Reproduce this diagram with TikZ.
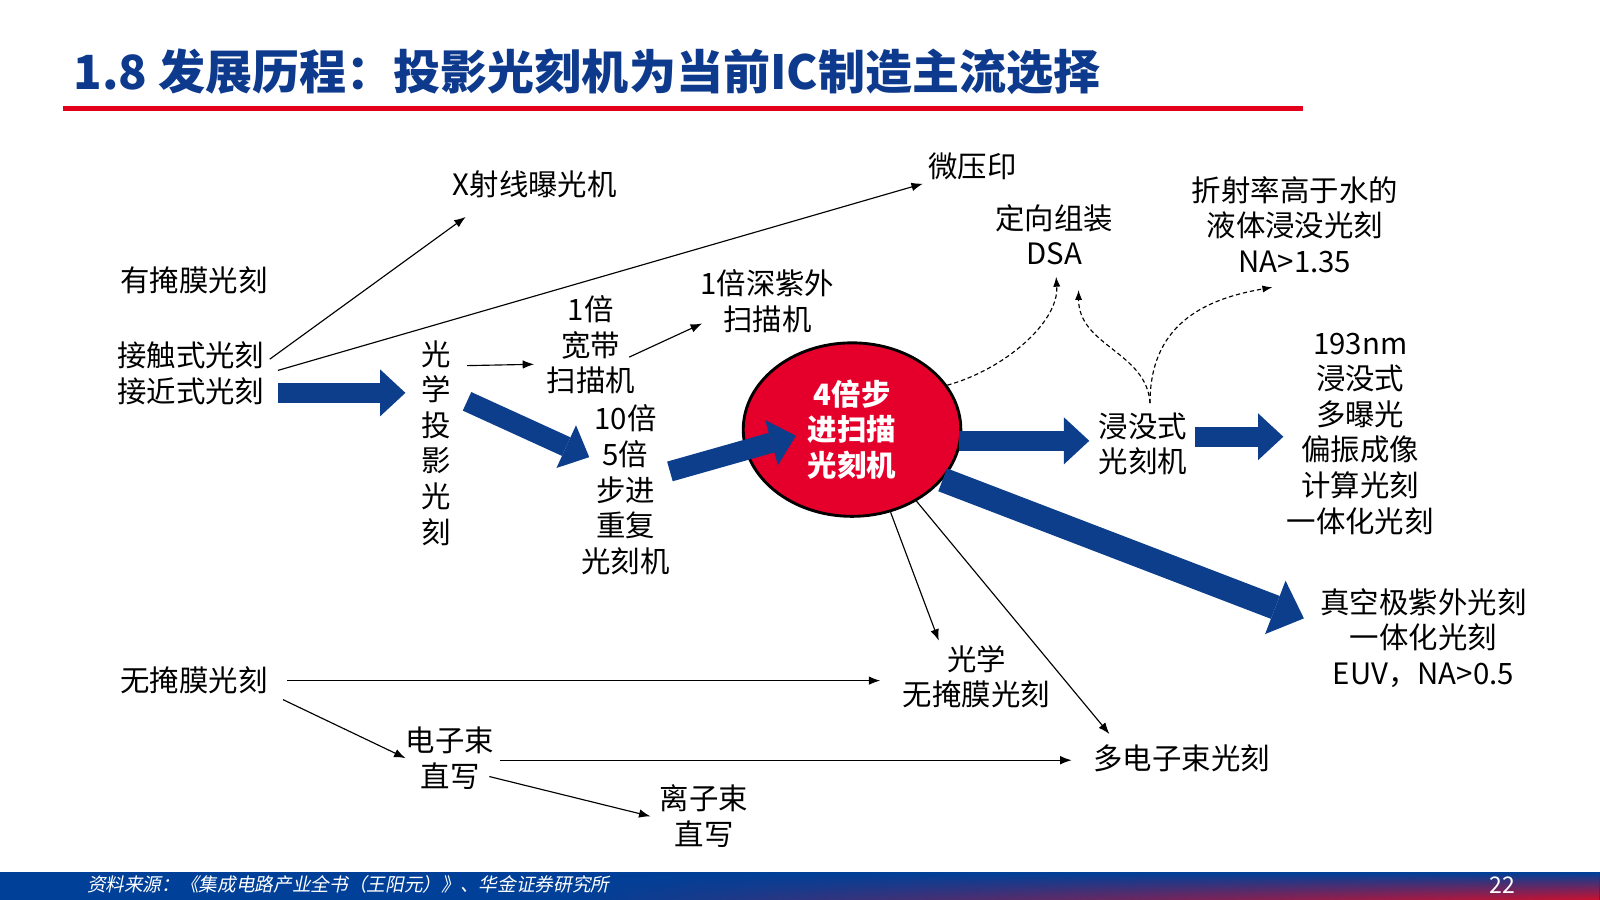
\documentclass[tikz,border=0pt]{standalone}
\usepackage{fontspec}
\newfontfamily\cjk{Noto Sans CJK SC}
\newfontfamily\cjkit{Noto Sans CJK SC}[FakeSlant=0.2]
\usetikzlibrary{arrows.meta, shapes.geometric, calc, fadings}

\definecolor{titleblue}{RGB}{13,58,140}
\definecolor{arrowblue}{RGB}{12,62,140}
\definecolor{ellred}{RGB}{228,0,43}
\definecolor{rulered}{RGB}{226,0,26}
\definecolor{footblue}{RGB}{0,64,152}
\definecolor{footred}{RGB}{205,16,46}

\tikzset{
  txt/.style={font=\cjk\fontsize{20.5}{24.8}\selectfont, align=center, inner sep=0pt},
  thinarr/.style={draw, line width=0.8pt, -{Latex[length=8pt, width=6pt]}},
  dasharr/.style={draw, line width=0.8pt, dash pattern=on 3pt off 2pt, -{Latex[length=7pt, width=5pt]}},
  bigarr/.style={draw=arrowblue, line width=0.5cm, -{Triangle[length=0.62cm, width=1.15cm, line width=0pt]}},
  hugearr/.style={draw=arrowblue, line width=0.6cm, -{Triangle[length=0.75cm, width=1.4cm, line width=0pt]}},
}

\begin{document}
\begin{tikzpicture}[x=0.025cm, y=-0.025cm]
    \useasboundingbox (0,0) rectangle (1568,882);
    \fill[white] (0,0) rectangle (1568,882);

    % title
    \node[anchor=west, inner sep=0pt, text=titleblue, font=\cjk\bfseries\fontsize{32.8}{36}\selectfont] (title) at (72,70) {1.8 发展历程：投影光刻机为当前IC制造主流选择};
    \fill[rulered] (62,104) rectangle (1277,109);

    \node[txt] (mask) at (190,275) {有掩膜光刻};
    \node[txt] (contact) at (187,366) {接触式光刻\\接近式光刻};
    \node[txt] (xray) at (524,181) {X射线曝光机};
    \node[txt] (nano) at (953,163) {微压印};
    \node[txt] (optproj) at (427,434) {光\\学\\投\\影\\光\\刻};
    \node[txt] (wide) at (579,338) {1倍\\宽带\\扫描机};
    \node[txt] (duv) at (752,295) {1倍深紫外\\扫描机};
    \node[txt] (step) at (613,480) {10倍\\5倍\\步进\\重复\\光刻机};
    \node[ellipse, draw, line width=2pt, fill=ellred, minimum width=5.33cm, minimum height=4.25cm, inner sep=0pt, align=center, text=white, font=\cjk\bfseries\fontsize{20.5}{24.8}\selectfont] (ell) at (835,421) {4倍步\\进扫描\\光刻机};
    \node[txt] (dsa) at (1033,230) {定向组装\\DSA};
    \node[txt] (imm) at (1120,435) {浸没式\\光刻机};
    \node[txt] (liquid) at (1269,220) {折射率高于水的\\液体浸没光刻\\NA>1.35};
    \node[txt] (multi) at (1333,425) {193nm\\浸没式\\多曝光\\偏振成像\\计算光刻\\一体化光刻};
    \node[txt] (euv) at (1395,625) {真空极紫外光刻\\一体化光刻\\EUV，NA>0.5};
    \node[txt] (optml) at (957,663) {光学\\无掩膜光刻};
    \node[txt] (mebeam) at (1158,743) {多电子束光刻};
    \node[txt] (maskless) at (190,667) {无掩膜光刻};
    \node[txt] (ebeam) at (441,743) {电子束\\直写};
    \node[txt] (ion) at (690,800) {离子束\\直写};

    \draw[thinarr] ([shift={(5,-14)}]contact.east) -- ([shift={(13,18)}]xray.south west);
    \draw[thinarr] ([shift={(13,-3)}]contact.east) -- ([shift={(-5,17)}]nano.west);
    \draw[bigarr] ([shift={(13,19)}]contact.east) -- ([shift={(-15,-49)}]optproj.west);
    \draw[thinarr] ([shift={(16,25)}]optproj.north east) -- ([shift={(-12,19)}]wide.west);
    \draw[bigarr] ([shift={(16,60)}]optproj.north east) -- ([shift={(8,-32)}]step.west);
    \draw[thinarr] ([shift={(-6,12)}]wide.east) -- ([shift={(2,22)}]duv.west);
    \draw[bigarr] ([shift={(0,-18)}]step.east) -- ([shift={(-55,6)}]ell.center);

    \draw[dasharr] (ell.25) .. controls +(55,-15) and +(3,45) .. ([shift={(2,11)}]dsa.south);
    \draw[dasharr] ([shift={(7,-9)}]imm.north) .. controls +(-3,-50) and +(0,55) .. ([shift={(24,24)}]dsa.south);
    \draw[dasharr] ([shift={(7,-9)}]imm.north) .. controls +(0,-75) and +(-70,12) .. ([shift={(-22,14)}]liquid.south);

    \draw[bigarr] ([shift={(-3,11)}]ell.east) -- ([shift={(-9,-3)}]imm.west);
    \draw[bigarr] ([shift={(8,-7)}]imm.east) -- ([shift={(-3,3)}]multi.west);
    \draw[hugearr] (ell.-29) -- ([shift={(-16,-19)}]euv.west);
    \draw[thinarr] (ell.-65) -- ([shift={(-37,-4)}]optml.north);
    \draw[thinarr] (ell.-48) -- ([shift={(16,-10)}]mebeam.north west);

    \draw[thinarr] ([shift={(19,0)}]maskless.east) -- ([shift={(-22,4)}]optml.west);
    \draw[thinarr] ([shift={(15,5)}]maskless.south east) -- (ebeam.west);
    \draw[thinarr] ([shift={(5,2)}]ebeam.east) -- ([shift={(-21,2)}]mebeam.west);
    \draw[thinarr] ([shift={(-5,18)}]ebeam.east) -- ([shift={(-9,0)}]ion.west);

    % footer
    \fill[footblue] (0,855) rectangle (1568,882);
    \shade[top color=footblue, middle color=footblue, bottom color=footred, path fading=west] (560,855) rectangle (1568,882);
    \node[anchor=west, inner sep=0pt, text=white, font=\cjkit\fontsize{13}{15}\selectfont] (src) at (85,867) {资料来源：《集成电路产业全书（王阳元）》、华金证券研究所};
    \node[inner sep=0pt, text=white, font=\cjk\fontsize{16}{18}\selectfont] (page) at (1472,867) {22};
\end{tikzpicture}
\end{document}
